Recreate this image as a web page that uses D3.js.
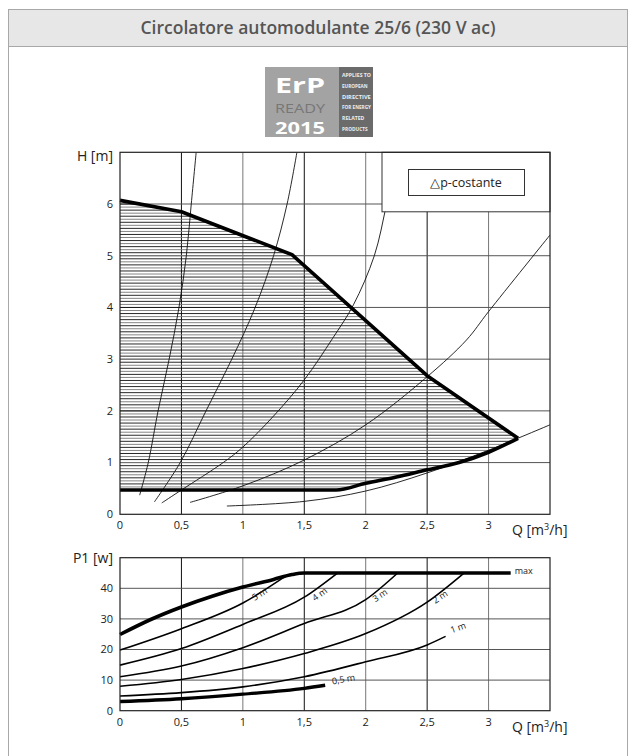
<!DOCTYPE html>
<html>
<head>
<meta charset="utf-8">
<title>Circolatore automodulante 25/6</title>
<script src="https://cdn.jsdelivr.net/npm/d3@7/dist/d3.min.js"></script>
<style>
  body { margin: 0; background: #fff; font-family: "Open Sans", sans-serif; }
  .tick-label { font-size: 11px; fill: #222; }
  .axis-title { font-size: 14px; fill: #222; }
  .curve-label { font-size: 9px; fill: #222; }
</style>
</head>
<body>
<script>
// ---- data ----
var qTicks = [0, 0.5, 1, 1.5, 2, 2.5, 3];
var qLabels = ["0", "0,5", "1", "1,5", "2", "2,5", "3"];
var hTicks = [0, 1, 2, 3, 4, 5, 6];
var pTicks = [0, 10, 20, 30, 40];

// head chart: working area limits [Q, H]
var hMax = [[0, 6.07], [0.5, 5.85], [1.4, 5.02], [2.5, 2.68], [3.24, 1.47]];
var hMin = [[0, 0.47], [1.76, 0.47], [2, 0.6], [2.25, 0.72], [2.5, 0.86], [2.76, 1.0], [3.0, 1.2], [3.24, 1.47]];

// head chart: system curves
var sys1 = [[0.16, 0.37], [0.23, 1], [0.31, 2], [0.40, 3], [0.48, 4], [0.54, 5], [0.58, 6], [0.62, 7]];
var sys2 = [[0.28, 0.24], [0.49, 1], [0.70, 2], [0.91, 3], [1.10, 4], [1.25, 5], [1.36, 6], [1.44, 7]];
var sys3 = [[0.34, 0.22], [0.5, 0.47], [0.84, 1], [1.0, 1.3], [1.25, 1.9], [1.5, 2.6], [1.73, 3.4], [1.9, 4.05], [2.07, 5], [2.17, 6], [2.26, 7]];
var sys4 = [[0.57, 0.23], [1, 0.55], [1.5, 1.05], [2, 1.73], [2.5, 2.66], [2.82, 3.37], [3, 3.92], [3.5, 5.4]];
var sys5 = [[0.87, 0.16], [1.5, 0.25], [2, 0.45], [2.5, 0.8], [3, 1.24], [3.5, 1.73]];

// power chart [Q, P1]
var pMax = [[0, 24.9], [0.25, 29.8], [0.5, 33.9], [0.75, 37.4], [1, 40.4], [1.25, 42.9], [1.4, 44.5], [1.5, 45], [3.18, 45]];
var p5 = [[0, 19.8], [0.5, 26.8], [1, 35.2], [1.36, 44.3]];
var p4 = [[0, 14.9], [0.5, 20.3], [1, 28.2], [1.5, 37.1], [1.77, 45]];
var p3 = [[0, 11.1], [0.5, 14.6], [1, 20.6], [1.5, 28.5], [2, 36.3], [2.26, 45]];
var p2 = [[0, 8.0], [0.5, 10.2], [1, 13.8], [1.5, 18.7], [2, 25.2], [2.5, 35.5], [2.8, 45]];
var p1 = [[0, 4.8], [0.5, 5.9], [1, 7.8], [1.5, 11.1], [2, 16.0], [2.5, 21.5], [2.65, 24.3]];
var p05 = [[0, 3.0], [0.5, 3.9], [1, 5.4], [1.5, 7.3], [1.67, 8.3]];

var pLabelText = ["5 m", "4 m", "3 m", "2 m", "1 m", "0,5 m"];
var pLabelAt = [[1.15, 37.2], [1.64, 37.2], [2.13, 36.8], [2.62, 36.3], [2.76, 26.2], [1.73, 8.6]];
var pLabelAngle = [-32, -36, -34, -34, -20, -10];

// ---- page ----
var W = 635, H = 756;
var svg = d3.select("body").append("svg").attr("width", W).attr("height", H);

// frame + header
svg.append("rect").attr("x", 8.5).attr("y", 9.5).attr("width", 619).attr("height", 37)
  .attr("fill", "#e7e7e7").attr("stroke", "#a8a8a8");
svg.append("line").attr("x1", 8.5).attr("x2", 8.5).attr("y1", 9).attr("y2", 756).attr("stroke", "#a8a8a8");
svg.append("line").attr("x1", 627.5).attr("x2", 627.5).attr("y1", 9).attr("y2", 756).attr("stroke", "#a8a8a8");
svg.append("text").attr("x", 318).attr("y", 34).attr("text-anchor", "middle")
  .attr("font-size", 17.5).attr("font-weight", 600).attr("fill", "#555")
  .text("Circolatore automodulante 25/6 (230 V ac)");

// ErP logo
var logo = svg.append("g");
logo.append("rect").attr("x", 265).attr("y", 67).attr("width", 74).attr("height", 70).attr("fill", "#a3a3a3");
logo.append("rect").attr("x", 339).attr("y", 67).attr("width", 34).attr("height", 70).attr("fill", "#6b6b6b");
logo.append("text").attr("x", 275).attr("y", 93).attr("font-size", 21).attr("font-weight", 700)
  .attr("fill", "#fff").attr("textLength", 50).attr("lengthAdjust", "spacingAndGlyphs").text("ErP");
logo.append("text").attr("x", 275).attr("y", 113).attr("font-size", 13)
  .attr("fill", "#777").attr("textLength", 50).attr("lengthAdjust", "spacingAndGlyphs").text("READY");
logo.append("text").attr("x", 275).attr("y", 134).attr("font-size", 16).attr("font-weight", 700)
  .attr("fill", "#fff").attr("textLength", 50).attr("lengthAdjust", "spacingAndGlyphs").text("2015");
["APPLIES TO", "EUROPEAN", "DIRECTIVE", "FOR ENERGY", "RELATED", "PRODUCTS"].forEach(function(t, i) {
  logo.append("text").attr("x", 342).attr("y", 77 + i * 10.8).attr("font-size", 6).attr("font-weight", 700)
    .attr("fill", "#eee").attr("textLength", Math.min(29, t.length * 3.2))
    .attr("lengthAdjust", "spacingAndGlyphs").text(t);
});

// ---- scales ----
var x = d3.scaleLinear().domain([0, 3.5]).range([120, 550]);
var yH = d3.scaleLinear().domain([0, 7]).range([514.3, 152.3]);
var yP = d3.scaleLinear().domain([0, 50]).range([710.7, 557.7]);

function drawGrid(g, y, yTop, yStep) {
  d3.range(0.5, 3.5, 0.5).forEach(function(q, i) {
    g.append("line").attr("x1", x(q)).attr("x2", x(q)).attr("y1", y(0)).attr("y2", y(yTop))
      .attr("stroke", i % 2 === 0 ? "#111" : "#777").attr("stroke-width", 1);
  });
  d3.range(yStep, yTop, yStep).forEach(function(v) {
    g.append("line").attr("x1", x(0)).attr("x2", x(3.5)).attr("y1", y(v)).attr("y2", y(v))
      .attr("stroke", "#555").attr("stroke-width", 1);
  });
}

function drawFrame(g, y, yTop) {
  g.append("rect").attr("x", x(0)).attr("y", y(yTop)).attr("width", x(3.5) - x(0)).attr("height", y(0) - y(yTop))
    .attr("fill", "none").attr("stroke", "#222").attr("stroke-width", 1.2);
}

function drawTicks(g, y, yVals) {
  g.selectAll("text.qt").data(qTicks).enter().append("text")
    .attr("class", "tick-label qt").attr("x", function(d) { return x(d); })
    .attr("y", y(0) + 15).attr("text-anchor", "middle")
    .text(function(d, i) { return qLabels[i]; });
  g.selectAll("text.yt").data(yVals).enter().append("text")
    .attr("class", "tick-label yt").attr("x", 113).attr("y", function(d) { return y(d); })
    .attr("dy", "0.35em").attr("text-anchor", "end").text(function(d) { return d; });
  var q = g.append("text").attr("class", "axis-title").attr("x", 512).attr("y", y(0) + 21);
  q.append("tspan").text("Q [m");
  q.append("tspan").attr("font-size", 9).attr("dy", -5).text("3");
  q.append("tspan").attr("dy", 5).text("/h]");
}

// ---- head chart ----
var headG = svg.append("g");
drawGrid(headG, yH, 7, 1);

var lineH = d3.line().x(function(d) { return x(d[0]); }).y(function(d) { return yH(d[1]); });

// hatched working area
var area = hMax.concat(hMin.slice().reverse());
svg.append("clipPath").attr("id", "work").append("path").attr("d", lineH(area) + "Z");
var hatch = headG.append("g").attr("clip-path", "url(#work)");
d3.range(0.47, 6.1, 1 / 17).forEach(function(h, i) {
  hatch.append("line").attr("x1", x(0)).attr("x2", x(3.3)).attr("y1", yH(h)).attr("y2", yH(h))
    .attr("stroke", i % 2 ? "#777" : "#111").attr("stroke-width", 0.9);
});

var smoothH = d3.line().curve(d3.curveCatmullRom).x(function(d) { return x(d[0]); }).y(function(d) { return yH(d[1]); });
svg.append("clipPath").attr("id", "topclip").append("rect")
  .attr("x", x(0)).attr("y", yH(7)).attr("width", x(3.5) - x(0)).attr("height", yH(0) - yH(7));
[sys1, sys2, sys3, sys4, sys5].forEach(function(s) {
  headG.append("path").attr("d", smoothH(s)).attr("fill", "none").attr("stroke", "#111")
    .attr("stroke-width", 0.9).attr("clip-path", "url(#topclip)");
});

headG.append("path").attr("d", lineH(hMax)).attr("fill", "none").attr("stroke", "#000").attr("stroke-width", 3.6)
  .attr("stroke-linejoin", "round");
headG.append("path").attr("d", d3.line().curve(d3.curveMonotoneX).x(function(d) { return x(d[0]); }).y(function(d) { return yH(d[1]); })(hMin))
  .attr("fill", "none").attr("stroke", "#000").attr("stroke-width", 3.6);

// legend box
headG.append("rect").attr("x", 382).attr("y", yH(7)).attr("width", x(3.5) - 382).attr("height", 59.5)
  .attr("fill", "#fff").attr("stroke", "#333");
headG.append("rect").attr("x", 408.5).attr("y", 169.5).attr("width", 116).attr("height", 26)
  .attr("fill", "#fff").attr("stroke", "#333");
headG.append("text").attr("x", 466).attr("y", 187).attr("text-anchor", "middle").attr("font-size", 12.5)
  .attr("fill", "#222").text("\u25B3p-costante");

drawFrame(headG, yH, 7);
drawTicks(headG, yH, hTicks);
headG.append("text").attr("class", "axis-title").attr("x", 113).attr("y", 161).attr("text-anchor", "end").text("H [m]");

// ---- power chart ----
var powG = svg.append("g");
drawGrid(powG, yP, 50, 10);
var smoothP = d3.line().curve(d3.curveMonotoneX).x(function(d) { return x(d[0]); }).y(function(d) { return yP(d[1]); });

[p5, p4, p3, p2, p1].forEach(function(s) {
  powG.append("path").attr("d", smoothP(s)).attr("fill", "none").attr("stroke", "#000").attr("stroke-width", 1.6);
});
powG.append("path").attr("d", smoothP(p05)).attr("fill", "none").attr("stroke", "#000").attr("stroke-width", 3.4);
powG.append("path").attr("d", smoothP(pMax)).attr("fill", "none").attr("stroke", "#000").attr("stroke-width", 3.6);
powG.append("text").attr("class", "curve-label").attr("x", x(3.18) + 4).attr("y", yP(45)).attr("dy", "0.1em").text("max");

pLabelText.forEach(function(t, i) {
  var px = x(pLabelAt[i][0]), py = yP(pLabelAt[i][1]);
  powG.append("text").attr("class", "curve-label").attr("text-anchor", i === 5 ? "start" : "middle")
    .attr("transform", "translate(" + px + "," + py + ") rotate(" + pLabelAngle[i] + ")").text(t);
});

drawFrame(powG, yP, 50);
drawTicks(powG, yP, pTicks);
powG.append("text").attr("class", "axis-title").attr("x", 113).attr("y", 563).attr("text-anchor", "end").text("P1 [w]");
</script>
</body>
</html>
